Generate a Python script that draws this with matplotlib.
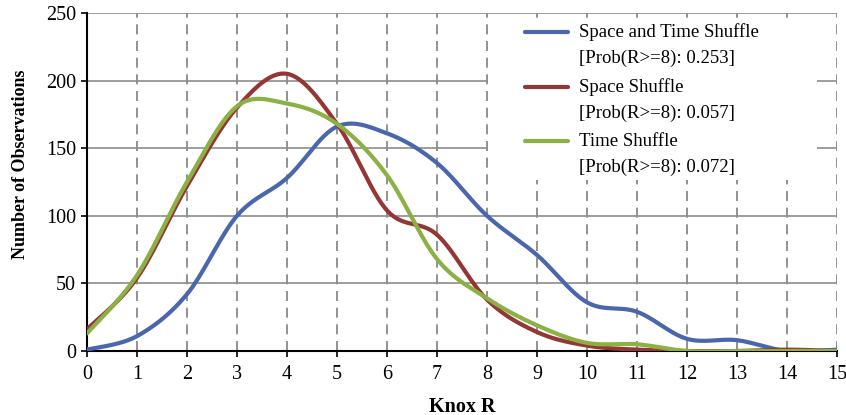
import numpy as np
import matplotlib
matplotlib.use('Agg')
import matplotlib.pyplot as plt
from matplotlib.legend_handler import HandlerLine2D
from matplotlib.patches import Rectangle

knox_r = list(range(16))
space_time = [1, 11, 42, 100, 128, 166, 161, 139, 100, 71, 36, 29, 9, 8, 0, 1]
space = [16, 54, 122, 180, 205, 168, 104, 86, 38, 14, 4, 1, 0, 0, 1, 0]
time = [13, 56, 125, 181, 183, 168, 130, 68, 39, 19, 6, 5, 0, 0, 0, 0]

series_labels = ['Space and Time Shuffle\n[Prob(R>=8): 0.253]',
                 'Space Shuffle\n[Prob(R>=8): 0.057]',
                 'Time Shuffle\n[Prob(R>=8): 0.072]']
colors = ['#4a66ac', '#943634', '#8bb043']


def smooth(x, y, n=30):
    # Excel-style smoothed line: cubic bezier with 1/6 tangents
    x = np.asarray(x, float)
    y = np.asarray(y, float)
    px = np.concatenate([[x[0]], x, [x[-1]]])
    py = np.concatenate([[y[0]], y, [y[-1]]])
    t = np.linspace(0, 1, n)[:, None]
    xs, ys = [], []
    for i in range(len(x) - 1):
        p0 = np.array([px[i + 1], py[i + 1]])
        p3 = np.array([px[i + 2], py[i + 2]])
        p1 = p0 + (p3 - np.array([px[i], py[i]])) / 6
        p2 = p3 - (np.array([px[i + 3], py[i + 3]]) - p0) / 6
        b = ((1 - t) ** 3 * p0 + 3 * (1 - t) ** 2 * t * p1
             + 3 * (1 - t) * t ** 2 * p2 + t ** 3 * p3)
        xs.append(b[:, 0])
        ys.append(b[:, 1])
    return np.concatenate(xs), np.concatenate(ys)


class TopLine(HandlerLine2D):
    # put the legend line next to the first text line
    def create_artists(self, legend, orig_handle, xdescent, ydescent,
                       width, height, fontsize, trans):
        return super().create_artists(legend, orig_handle, xdescent,
                                      ydescent - 2 * 9.3, width, height,
                                      fontsize, trans)


plt.rcParams['font.family'] = 'Liberation Serif'
plt.rcParams['font.size'] = 13

fig = plt.figure(figsize=(8.46, 4.15), dpi=100)
ax = fig.add_axes([0.1028, 0.1542, 0.8866, 0.8145])

handles = []
for ys, lab, c in zip([space_time, space, time], series_labels, colors):
    sx, sy = smooth(knox_r, ys)
    h, = ax.plot(sx, sy, color=c, lw=3.0, label=lab, solid_capstyle='round',
                 zorder=3)
    handles.append(h)

ax.set_xlim(0, 15)
ax.set_ylim(0, 250)
ax.set_xticks(knox_r)
ax.set_yticks(range(0, 251, 50))
ax.yaxis.grid(True, color='#8c8c8c', lw=1.2)
ax.xaxis.grid(True, color='#7f7f7f', lw=1.2, ls=(0, (6, 4)))
ax.set_axisbelow(True)
for s in ['top', 'right']:
    ax.spines[s].set_visible(False)
ax.spines['left'].set_linewidth(1.5)
ax.spines['bottom'].set_linewidth(1.5)
ax.tick_params(length=4, width=1.2, labelsize=14.5, pad=4)
ax.tick_params(axis='x', pad=6)
ax.set_xlabel('Knox R', fontweight='bold', fontsize=14.5)
ax.xaxis.set_label_coords(0.5, -0.135)
ax.set_ylabel('Number of Observations', fontweight='bold', fontsize=13)
ax.yaxis.set_label_coords(-0.077, 0.553)

# white legend area hiding the grid, like the spreadsheet legend box
ax.add_patch(Rectangle((0.5347, 0.506), 0.4386, 0.473, transform=ax.transAxes,
                       facecolor='white', edgecolor='none', zorder=1.5))

leg = ax.legend(handles=handles, loc='upper left', frameon=False,
                fontsize=13.5, handlelength=2.3, handletextpad=0.6,
                labelspacing=0.58, borderpad=0, borderaxespad=0,
                bbox_to_anchor=(0.584, 0.970),
                handler_map={plt.Line2D: TopLine()})
for t in leg.get_texts():
    t.set_linespacing(1.66)

fig.savefig('out.png', dpi=100)
